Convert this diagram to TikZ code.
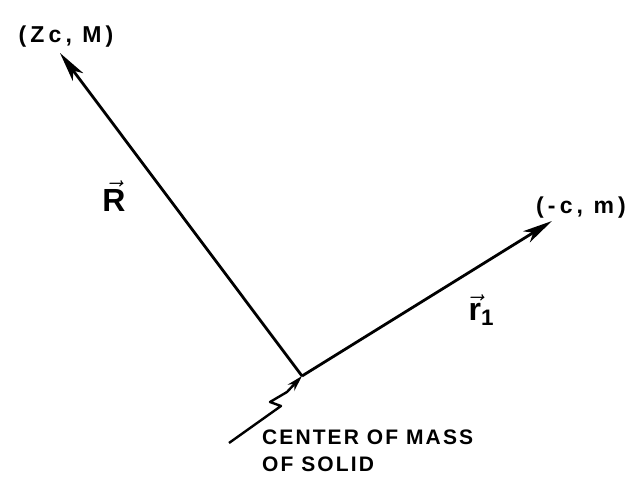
\documentclass[tikz,border=0pt]{standalone}
\usepackage{fontspec}
\setmainfont{Liberation Sans}
\usetikzlibrary{arrows.meta}
\begin{document}
\begin{tikzpicture}[x=1pt,y=-1pt,
  vec/.style={line width=2.8pt,-{Stealth[length=30pt,width=13pt,inset=8pt]}},
  lbl/.style={font=\fontsize{23}{26}\selectfont\bfseries\addfontfeature{LetterSpace=18},inner sep=0pt},
  vlbl/.style={inner sep=0pt,scale=3.2},
  note/.style={font=\fontsize{21}{27}\selectfont\bfseries\addfontfeature{LetterSpace=10},inner sep=0pt,align=left}]
\useasboundingbox (0,0) rectangle (627,500);
\coordinate (O) at (302,376);
\coordinate (Rtip) at (60,53);
\coordinate (rtip) at (552,221);
\coordinate (ptail) at (229,443);
\coordinate (z1) at (281,406);
\coordinate (z2) at (270,402);
\coordinate (z3) at (287,392);
\draw[vec] (O) -- (Rtip);
\draw[vec] (O) -- (rtip);
\draw[line width=2.4pt,-{Stealth[length=16pt,width=9pt]},line join=round]
  (ptail) -- (z1) -- (z2) -- (z3) -- (O);
\node[lbl] (lZ) at (66,37) {(Zc, M)};
\node[lbl] (lm) at (581,208) {(-c, m)};
\node[vlbl] (lR) at (114,196) {$\vec{\mathbf{R}}$};
\node[vlbl] (lr) at (482,310) {$\vec{\mathbf{r}}_{\mathbf{1}}$};
\node[note,anchor=north west] (cm) at (262,430) {CENTER OF MASS\\OF SOLID};
\end{tikzpicture}
\end{document}
